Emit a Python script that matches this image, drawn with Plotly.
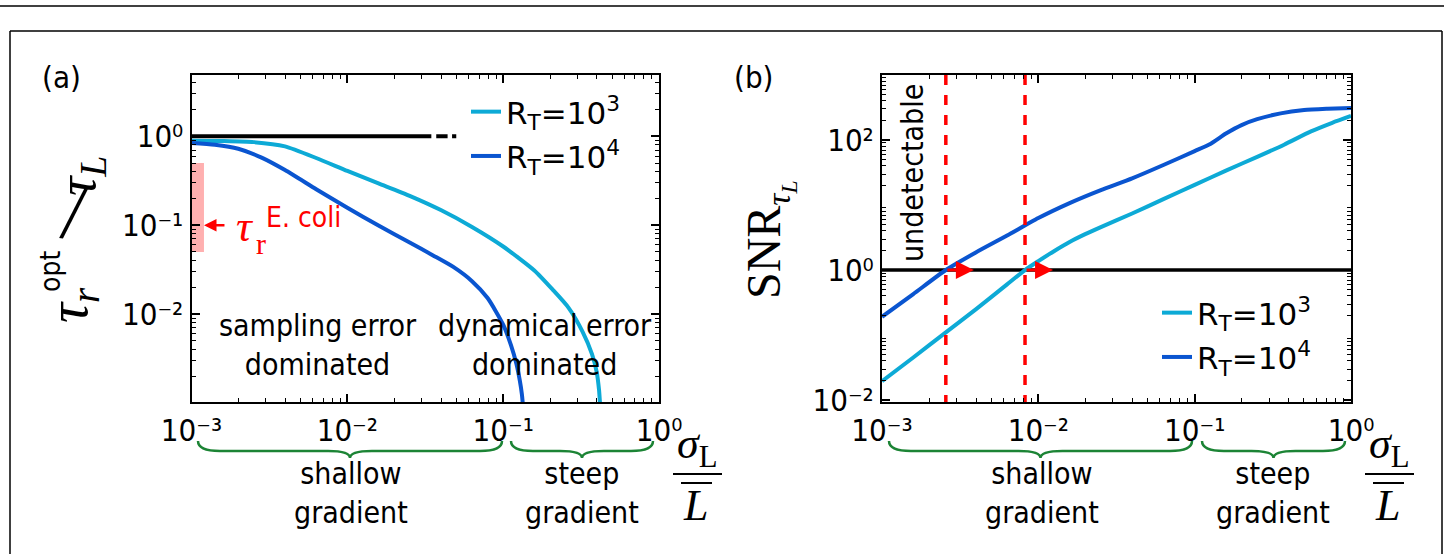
import numpy as np
import plotly.graph_objects as go

W, H = 1444, 554

# ---------------- data ----------------
legend_labels = ["R<sub>T</sub>=10<sup>3</sup>", "R<sub>T</sub>=10<sup>4</sup>"]

# panel (a): optimal readout time tau_r^opt / tau_L
a_x_rt3 = [0.001, 0.001585, 0.002512, 0.003981, 0.00631, 0.01, 0.01585, 0.02512, 0.03981,
           0.0631, 0.1, 0.1585, 0.2089, 0.263, 0.3236, 0.3715, 0.3981, 0.4121, 0.4198]
a_y_rt3 = [0.8913, 0.884, 0.8600, 0.7700, 0.5700, 0.4074, 0.2951, 0.2138, 0.1479,
           0.0955, 0.05754, 0.0309, 0.01862, 0.01175, 0.00631, 0.003548, 0.002239, 0.001413, 0.000891]
a_x_rt4 = [0.001, 0.001413, 0.001995, 0.002818, 0.003981, 0.00631, 0.01, 0.01585, 0.02512,
           0.03548, 0.04786, 0.0631, 0.07943, 0.1, 0.1122, 0.1216, 0.1279, 0.1318, 0.1343]
a_y_rt4 = [0.8414, 0.8035, 0.7244, 0.5754, 0.4169, 0.2541, 0.1567, 0.09886, 0.06383,
           0.04571, 0.03388, 0.02344, 0.01514, 0.007586, 0.004467, 0.002754, 0.001778, 0.001259, 0.000891]
a_ref_level = 1.0
a_ref_segments = [(0.001, 0.0346), (0.0372, 0.0440), (0.0470, 0.0500)]
ecoli_range = [0.05, 0.5]
ecoli_value = 0.1

# panel (b): SNR
b_x_rt3 = [0.001, 0.001585, 0.002512, 0.003981, 0.00631, 0.00822, 0.01, 0.01259, 0.01585, 0.01995,
           0.02512, 0.03981, 0.0631, 0.1, 0.1585, 0.2512, 0.3733, 0.5546, 0.7586, 1.0]
b_y_rt3 = [0.0195, 0.04519, 0.1059, 0.2483, 0.6026, 1.0, 1.370, 1.950, 2.700, 3.560,
           4.571, 7.413, 12.30, 20.42, 33.88, 54.95, 84.72, 135.5, 184.1, 234.4]
b_x_rt4 = [0.001, 0.001585, 0.00256, 0.003981, 0.00631, 0.01, 0.01585, 0.02512, 0.03981, 0.0631,
           0.1, 0.1259, 0.1585, 0.1995, 0.2512, 0.3548, 0.5012, 0.7079, 1.0]
b_y_rt4 = [0.1905, 0.4266, 1.0, 1.862, 3.388, 6.310, 10.72, 16.98, 25.70, 41.21,
           67.61, 87.10, 125.9, 169.8, 208.9, 257.0, 288.4, 302.0, 311.2]
b_ref_level = 1.0
detect_thresholds = [0.00256, 0.00822]

x_ticks = [0.001, 0.01, 0.1, 1.0]
x_ticktext = ["10⁻³", "10⁻²", "10⁻¹", "10⁰"]
ya_ticks = [0.01, 0.1, 1.0]
ya_ticktext = ["10⁻²", "10⁻¹", "10⁰"]
yb_ticks = [0.01, 1.0, 100.0]
yb_ticktext = ["10⁻²", "10⁰", "10²"]

# ---------------- style ----------------
C3 = "#0DAAD6"
C4 = "#0A55D0"
GREEN = "#1C8435"
RED = "#FF0000"
SANS = "DejaVu Sans Condensed, DejaVu Sans"
SANS_N = "DejaVu Sans"
SERIF = "Liberation Serif"
FS = 30


def fx(x):
    return x / W


def fy(y):
    return 1 - y / H


def minor_vals(lo, hi):
    vals = []
    for d in range(lo, hi):
        for m in range(2, 10):
            vals.append(m * 10.0 ** d)
    return vals


fig = go.Figure()

# ---- panel (a) ----
band_w = 0.08  # width of E. coli band in decades
xb = 10 ** (np.log10(a_x_rt3[0]) + band_w)
fig.add_trace(go.Scatter(x=[a_x_rt3[0], xb, xb, a_x_rt3[0], a_x_rt3[0]],
                         y=[ecoli_range[0], ecoli_range[0], ecoli_range[1], ecoli_range[1], ecoli_range[0]],
                         fill="toself", fillcolor="#FFB0B0", line=dict(width=0), mode="lines",
                         showlegend=False, hoverinfo="skip", xaxis="x", yaxis="y"))
for s0, s1 in a_ref_segments:
    fig.add_trace(go.Scatter(x=[s0, s1], y=[a_ref_level, a_ref_level], mode="lines",
                             line=dict(color="black", width=4), showlegend=False,
                             xaxis="x", yaxis="y"))
fig.add_trace(go.Scatter(x=a_x_rt3, y=a_y_rt3, mode="lines", name=legend_labels[0],
                         line=dict(color=C3, width=4, shape="spline", smoothing=0.6),
                         xaxis="x", yaxis="y", legend="legend", legendgroup="a3"))
fig.add_trace(go.Scatter(x=a_x_rt4, y=a_y_rt4, mode="lines", name=legend_labels[1],
                         line=dict(color=C4, width=4, shape="spline", smoothing=0.6),
                         xaxis="x", yaxis="y", legend="legend", legendgroup="a4"))

# ---- panel (b) ----
fig.add_trace(go.Scatter(x=[x_ticks[0], x_ticks[-1]], y=[b_ref_level, b_ref_level], mode="lines",
                         line=dict(color="black", width=3.5), showlegend=False,
                         xaxis="x2", yaxis="y2"))
fig.add_trace(go.Scatter(x=b_x_rt3, y=b_y_rt3, mode="lines", name=legend_labels[0],
                         line=dict(color=C3, width=4, shape="spline", smoothing=0.6),
                         xaxis="x2", yaxis="y2", legend="legend2", legendgroup="b3"))
fig.add_trace(go.Scatter(x=b_x_rt4, y=b_y_rt4, mode="lines", name=legend_labels[1],
                         line=dict(color=C4, width=4, shape="spline", smoothing=0.6),
                         xaxis="x2", yaxis="y2", legend="legend2", legendgroup="b4"))
for thr in detect_thresholds:
    fig.add_trace(go.Scatter(x=[thr, thr], y=[1e-3, 1e4], mode="lines",
                             line=dict(color=RED, width=3.5, dash="10px,10px"),
                             showlegend=False, xaxis="x2", yaxis="y2"))

axis_common = dict(type="log", showline=True, linecolor="black", linewidth=2, mirror="allticks",
                   ticks="inside", ticklen=8, tickwidth=1.5, tickcolor="black", showgrid=False,
                   zeroline=False, tickfont=dict(family=SANS, size=31, color="black"),
                   tickmode="array", automargin=False)
minor_common = dict(tickmode="array", ticks="inside", ticklen=4, tickwidth=1.2,
                    tickcolor="black", showgrid=False)

fig.update_layout(
    template="none",
    width=W, height=H, autosize=False, margin=dict(l=0, r=0, t=0, b=0, pad=0),
    paper_bgcolor="white", plot_bgcolor="white",
    xaxis=dict(domain=[fx(191.5), fx(659)], range=[-3, 0], anchor="y",
               tickvals=x_ticks, ticktext=x_ticktext,
               minor=dict(tickvals=minor_vals(-3, 0), **minor_common), **axis_common),
    yaxis=dict(domain=[fy(402), fy(75)], range=[-2.99, 0.69], anchor="x",
               tickvals=ya_ticks, ticktext=ya_ticktext,
               minor=dict(tickvals=minor_vals(-3, 1), **minor_common), **axis_common),
    xaxis2=dict(domain=[fx(882), fx(1351)], range=[-3, 0], anchor="y2",
                tickvals=x_ticks, ticktext=x_ticktext,
                minor=dict(tickvals=minor_vals(-3, 0), **minor_common), **axis_common),
    yaxis2=dict(domain=[fy(402), fy(75)], range=[-2.03, 3.0], anchor="x2",
                tickvals=yb_ticks, ticktext=yb_ticktext,
                minor=dict(tickvals=minor_vals(-3, 3), **minor_common), **axis_common),
    legend=dict(x=fx(466), y=fy(85), xanchor="left", yanchor="top",
                font=dict(family=SANS_N, size=31, color="black"), bgcolor="rgba(0,0,0,0)",
                itemwidth=30, tracegroupgap=1),
    legend2=dict(x=fx(1157), y=fy(286), xanchor="left", yanchor="top",
                 font=dict(family=SANS_N, size=31, color="black"), bgcolor="rgba(0,0,0,0)",
                 itemwidth=30, tracegroupgap=1),
    showlegend=True,
)

ann = []


def text(x, y, s, size=FS, family=SANS, color="black", angle=0, xanchor="center"):
    ann.append(dict(x=fx(x), y=fy(y), xref="paper", yref="paper", text=s, showarrow=False,
                    font=dict(family=family, size=size, color=color), textangle=angle,
                    xanchor=xanchor, yanchor="middle", borderpad=0))


# panel labels
text(61, 77, "(a)", size=31)
text(753, 77, "(b)", size=31)

# panel (a) texts
text(318, 345, "sampling error<br>dominated")
text(545, 345, "dynamical error<br>dominated")
text(245, 226, "<i>τ</i>", size=44, family=SERIF, color=RED)
text(261, 243, "r", size=30, family=SERIF, color=RED)
text(303, 217, "E. coli", size=28, color=RED)
ann.append(dict(x=np.log10(a_x_rt3[0]) + band_w, y=np.log10(ecoli_value), xref="x", yref="y",
                ax=22, ay=0, showarrow=True, arrowhead=2, arrowsize=1, arrowwidth=2.5,
                arrowcolor=RED, text=""))

# panel (b) texts
text(912, 173, "undetectable", angle=-90)
for thr in detect_thresholds:
    ann.append(dict(x=np.log10(thr) + 28 / 156, y=np.log10(b_ref_level), xref="x2", yref="y2",
                    ax=-28, ay=0, showarrow=True, arrowhead=2, arrowsize=1.2, arrowwidth=3,
                    arrowcolor=RED, text=""))

# y title of panel (a), assembled from rotated pieces
text(72, 305, "<i>τ</i><sub><i>r</i></sub>", size=56, family=SERIF, angle=-90)
text(50, 272, "opt", size=28, angle=-90)
text(74, 212, "/", size=78, family=SERIF, angle=8)
text(80, 176, "<i>τ</i><sub><i>L</i></sub>", size=54, family=SERIF, angle=-90)
# y title of panel (b)
text(770, 240, "SNR<sub><i>τ</i><sub><i>L</i></sub></sub>", size=48, family=SERIF, angle=-90)

# x titles (fraction sigma_L / L-bar) and brace texts
shapes = []
for cx in (697, 1389):
    text(cx, 446, "<i>σ</i><sub>L</sub>", size=44, family=SERIF)
    text(cx - 2, 505, "<i>L</i>", size=44, family=SERIF)
    shapes.append(dict(type="line", xref="paper", yref="paper", x0=fx(cx - 24), x1=fx(cx + 25),
                       y0=fy(474), y1=fy(474), line=dict(color="black", width=2)))
    shapes.append(dict(type="line", xref="paper", yref="paper", x0=fx(cx - 16), x1=fx(cx + 15),
                       y0=fy(483), y1=fy(483), line=dict(color="black", width=2)))

for cx in (351, 1042):
    text(cx, 493, "shallow<br>gradient")
for cx in (582, 1273):
    text(cx, 493, "steep<br>gradient")


def brace(x0, x1, y0=441, y1=451, y2=458, r=22):
    xm = (x0 + x1) / 2
    pts = [("M", [(x0, y0)]), ("Q", [(x0, y1), (x0 + r, y1)]), ("L", [(xm - r, y1)]),
           ("Q", [(xm, y1), (xm, y2)]), ("Q", [(xm, y1), (xm + r, y1)]), ("L", [(x1 - r, y1)]),
           ("Q", [(x1, y1), (x1, y0)])]
    s = ""
    for cmd, ps in pts:
        s += cmd + " " + " ".join(f"{fx(a):.5f},{fy(b):.5f}" for a, b in ps) + " "
    return s.strip()


for x0, x1 in [(198, 502), (511, 653), (889, 1192), (1202, 1345)]:
    shapes.append(dict(type="path", xref="paper", yref="paper", path=brace(x0, x1),
                       line=dict(color=GREEN, width=2.5)))

# outer frame
shapes.append(dict(type="line", xref="paper", yref="paper", x0=0, x1=1, y0=fy(6), y1=fy(6),
                   line=dict(color="black", width=1.5)))
shapes.append(dict(type="line", xref="paper", yref="paper", x0=fx(10), x1=fx(1442), y0=fy(31),
                   y1=fy(31), line=dict(color="black", width=1.5)))
shapes.append(dict(type="line", xref="paper", yref="paper", x0=fx(10), x1=fx(10), y0=fy(31),
                   y1=0, line=dict(color="black", width=1.5)))
shapes.append(dict(type="line", xref="paper", yref="paper", x0=fx(1442), x1=fx(1442), y0=fy(31),
                   y1=0, line=dict(color="black", width=1.5)))

fig.update_layout(annotations=ann, shapes=shapes)

page_fix = ("document.documentElement.style.margin='0';document.body.style.margin='0';"
            "document.body.style.padding='0';document.body.style.overflow='hidden';"
            "document.documentElement.style.overflow='hidden';")
fig.write_html("out.html", post_script=page_fix, config={"displayModeBar": False})
